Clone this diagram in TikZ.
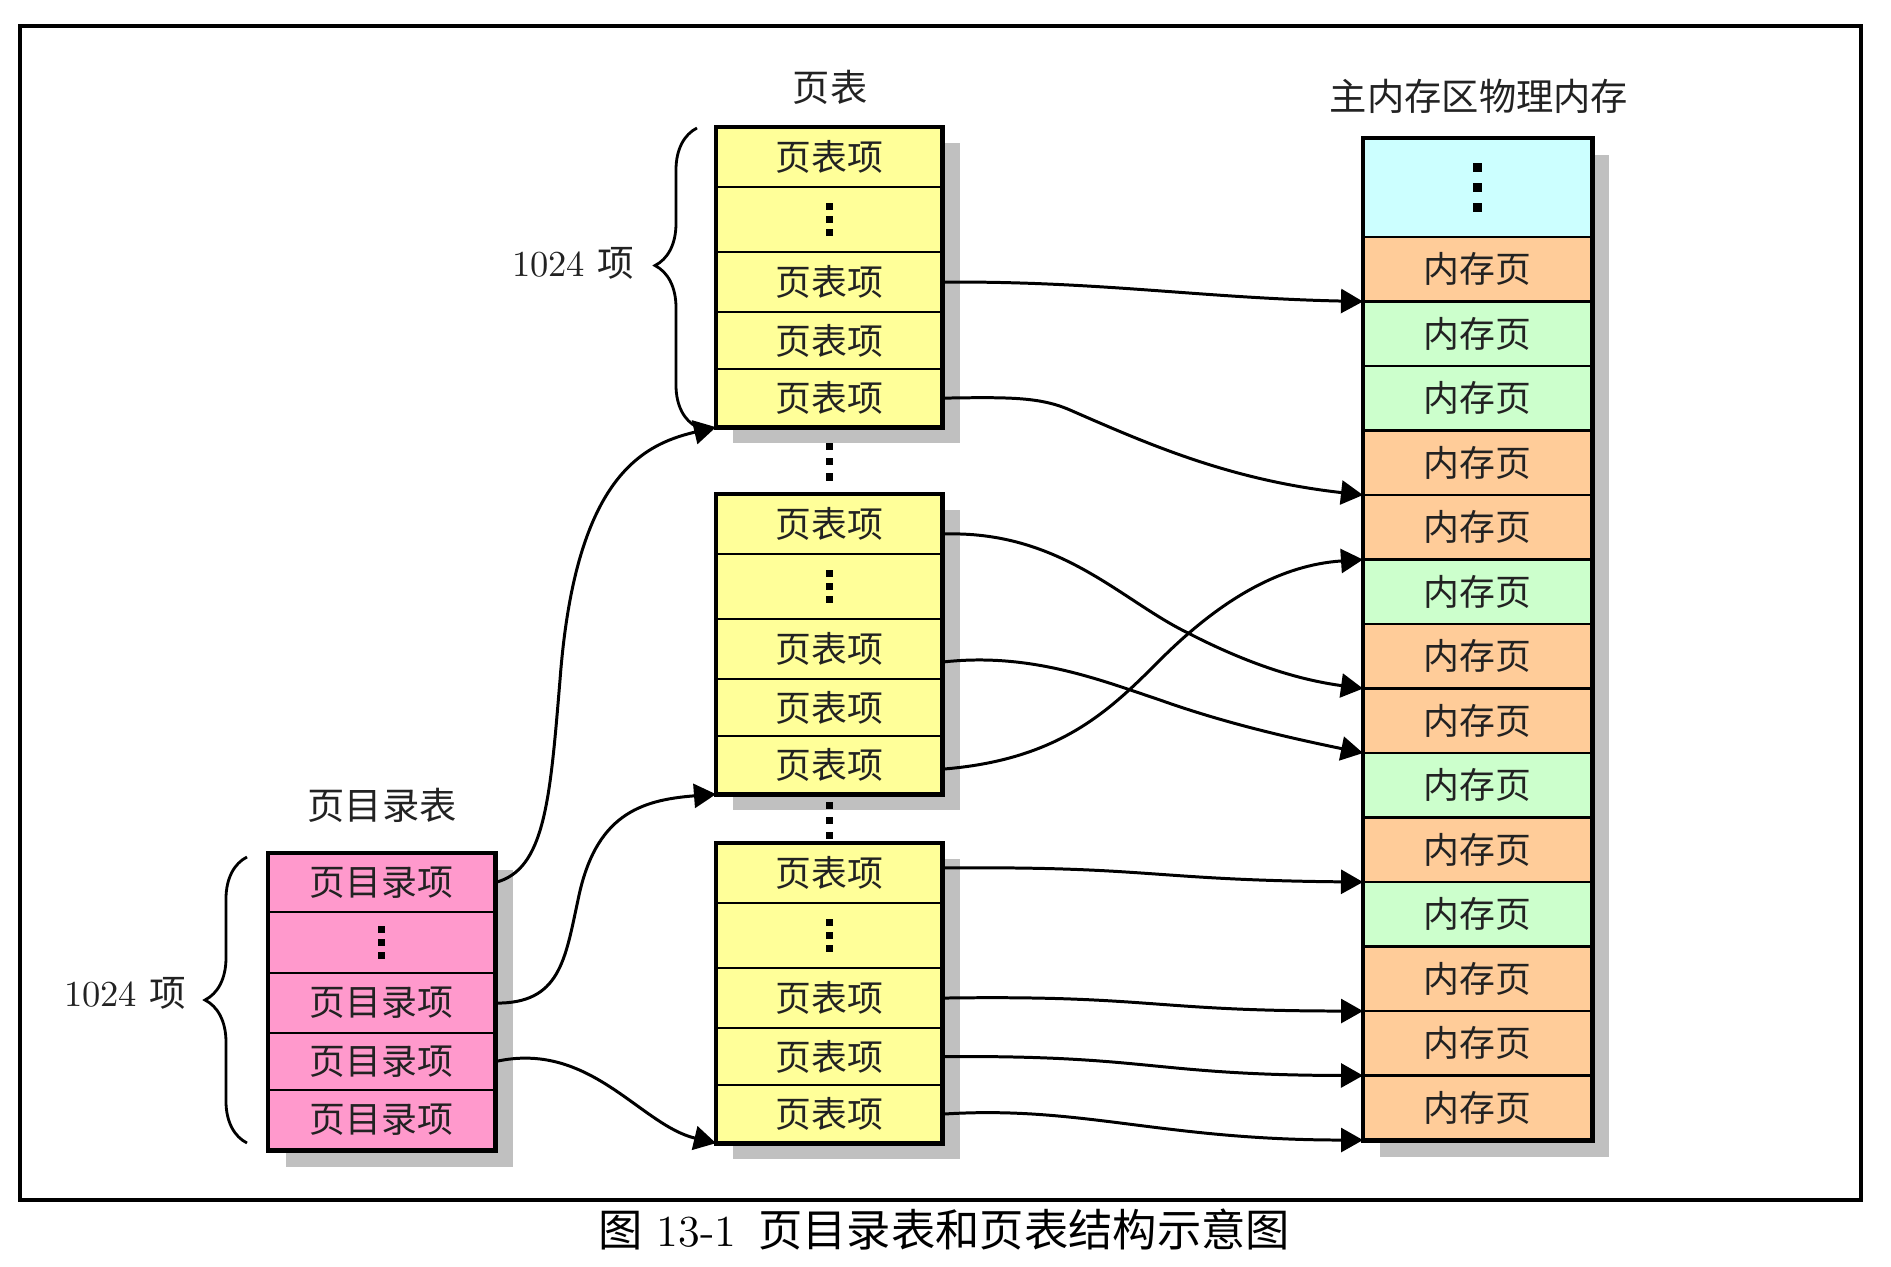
\documentclass[tikz,border=0pt]{standalone}
\usepackage{fontspec}
\newfontfamily\cjk{Noto Sans CJK SC}
\usetikzlibrary{arrows.meta,calc,decorations.pathreplacing}
\definecolor{cyell}{HTML}{FFFF99}
\definecolor{cpink}{HTML}{FF99CC}
\definecolor{corange}{HTML}{FFCC99}
\definecolor{cgreen}{HTML}{CCFFCC}
\definecolor{ccyan}{HTML}{CCFFFF}
\definecolor{cshadow}{HTML}{C0C0C0}
\definecolor{ctext}{HTML}{222222}
\tikzset{
  cell/.style={draw=black, line width=0.7pt, inner sep=0pt, outer sep=0pt,
    anchor=north west, font=\fontsize{10.2pt}{12pt}\selectfont\cjk, text=ctext},
  tcell/.style={cell, fill=cyell, minimum width=2.26cm},
  dcell/.style={cell, fill=cpink, minimum width=2.27cm},
  mcell/.style={cell, minimum width=2.29cm, minimum height=0.645cm},
  outline/.style={draw=black, line width=1.4pt},
  shade/.style={fill=cshadow},
  ttl/.style={font=\fontsize{10.6pt}{12pt}\selectfont\cjk, text=ctext, inner sep=0pt},
  arr/.style={line width=0.85pt, -{Triangle[length=0.22cm,width=0.24cm]}},
  brc/.style={line width=0.8pt, decorate, decoration={brace, amplitude=0.42cm}},
}
\newcommand\sqdots[3]{%
  \foreach \dd in {-1,0,1}{\fill ($(#1)+(0,\dd*#2)$) ++(-#3/2,-#3/2) rectangle ++(#3,#3);}}
\newcommand\ptable[2]{%
  \fill[shade] (733,#2+16) rectangle (960,#2+316);
  \node[tcell, minimum height=0.60cm] (#1r1) at (716,#2) {页表项};
  \node[tcell, minimum height=0.65cm] (#1r2) at (#1r1.south west) {};
  \node[tcell, minimum height=0.60cm] (#1r3) at (#1r2.south west) {页表项};
  \node[tcell, minimum height=0.57cm] (#1r4) at (#1r3.south west) {页表项};
  \node[tcell, minimum height=0.58cm] (#1r5) at (#1r4.south west) {页表项};
  \draw[outline] (#1r1.north west) rectangle (#1r5.south east);
  \sqdots{#1r2.center}{13}{7}}
\begin{document}
\begin{tikzpicture}[x=0.01cm,y=-0.01cm]
\useasboundingbox (0,0) rectangle (1891,1267);
\fill[white] (0,0) rectangle (1891,1267);
\draw[line width=1.1pt] (20,26) rectangle (1861,1200);

% titles
\node[ttl] (lt) at (830,87) {页表};
\node[ttl] (lm) at (1479,96) {主内存区物理内存};
\node[ttl] (ld) at (382,805) {页目录表};

% page tables
\ptable{ta}{127}
\ptable{tb}{494}
\ptable{tc}{843}
\sqdots{829,462}{15}{7}
\sqdots{829,820}{15}{7}

% page directory
\fill[shade] (286,870) rectangle (513,1167);
\node[dcell, minimum height=0.59cm] (d1) at (268,853) {页目录项};
\node[dcell, minimum height=0.61cm] (d2) at (d1.south west) {};
\node[dcell, minimum height=0.60cm] (d3) at (d2.south west) {页目录项};
\node[dcell, minimum height=0.57cm] (d4) at (d3.south west) {页目录项};
\node[dcell, minimum height=0.60cm] (d5) at (d4.south west) {页目录项};
\draw[outline] (d1.north west) rectangle (d5.south east);
\sqdots{d2.center}{13}{7}

% memory
\fill[shade] (1380,155) rectangle (1609,1157);
\node[mcell, fill=ccyan, minimum height=0.99cm] (m0) at (1363,138) {};
\foreach \i/\c in {1/corange,2/cgreen,3/cgreen,4/corange,5/corange,6/cgreen,7/corange,
  8/corange,9/cgreen,10/corange,11/cgreen,12/corange,13/corange,14/corange}{
  \node[mcell, fill=\c] (m\i) at (1363,{237+64.5*(\i-1)}) {内存页};
}
\draw[outline] (m0.north west) rectangle (m14.south east);
\sqdots{m0.center}{20}{9}

% braces and counts
\draw[brc, decoration={aspect=0.54}] (697,427) -- (697,128);
\node[inner sep=0pt, font=\fontsize{10.4pt}{12pt}\selectfont, text=ctext] (n1) at (573,263) {1024 {\cjk 项}};
\draw[brc] (247,1143) -- (247,857);
\node[inner sep=0pt, font=\fontsize{10.4pt}{12pt}\selectfont, text=ctext] (n2) at (125,993) {1024 {\cjk 项}};

% directory -> page tables
\draw[arr] (d1.east) .. controls (545,870) and (550,800) .. (560,680)
  .. controls (575,480) and (640,445) .. (tar5.south west);
\draw[arr] (d3.east) .. controls (560,1004) and (565,960) .. (578,900)
  .. controls (595,815) and (640,800) .. (tbr5.south west);
\draw[arr] (d4.east) .. controls (590,1040) and (640,1125) .. (tcr5.south west);

% page tables -> memory
\draw[arr] (tar3.east) .. controls (1100,281) and (1200,298) .. (m1.south west);
\draw[arr] (tar5.east) .. controls (1010,397) and (1040,397) .. (1070,410)
  .. controls (1150,445) and (1230,480) .. (m4.south west);
\draw[arr] ([yshift=-0.1cm]tbr1.east) .. controls (1060,530) and (1120,600) .. (1188,633)
  .. controls (1250,665) and (1300,680) .. (m7.south west);
\draw[arr] ([yshift=-0.13cm]tbr3.east) .. controls (1030,652) and (1100,680) .. (1160,700)
  .. controls (1230,725) and (1300,740) .. (m8.south west);
\draw[arr] ([yshift=-0.04cm]tbr5.east) .. controls (1060,760) and (1110,710) .. (1160,660)
  .. controls (1220,600) and (1280,565) .. (m5.south west);
\draw[arr] ([yshift=0.05cm]tcr1.east) .. controls (1150,866) and (1150,880) .. (m10.south west);
\draw[arr] (tcr3.east) .. controls (1150,995) and (1150,1011) .. (m12.south west);
\draw[arr] (tcr4.east) .. controls (1150,1055) and (1150,1075) .. (m13.south west);
\draw[arr] (tcr5.east) .. controls (1080,1105) and (1160,1140) .. (m14.south west);

% caption
\node[inner sep=0pt, font=\fontsize{12.6pt}{14pt}\selectfont, text=black] (cap) at (944,1230)
  {{\cjk 图} 13-1\, {\cjk 页目录表和页表结构示意图}};
\end{tikzpicture}
\end{document}
